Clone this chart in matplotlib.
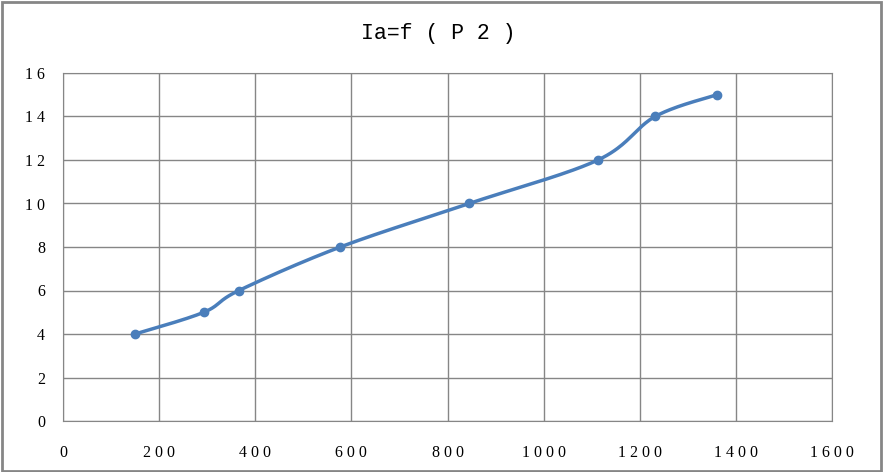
import numpy as np
import matplotlib.pyplot as plt
from matplotlib.patches import Rectangle

# data
p2 = [150, 293, 366, 577, 845, 1113, 1232, 1360]
ia = [4, 5, 6, 8, 10, 12, 14, 15]
xticks = [0, 200, 400, 600, 800, 1000, 1200, 1400, 1600]
yticks = [0, 2, 4, 6, 8, 10, 12, 14, 16]


def smooth(x, y, n=40):
    # Excel-like smoothed line: Catmull-Rom via cubic Bezier segments
    x = np.asarray(x, float)
    y = np.asarray(y, float)
    px = np.concatenate([[x[0]], x, [x[-1]]])
    py = np.concatenate([[y[0]], y, [y[-1]]])
    xs, ys = [], []
    t = np.linspace(0, 1, n)
    for i in range(1, len(px) - 2):
        x0, y0 = px[i], py[i]
        x3, y3 = px[i + 1], py[i + 1]
        x1 = x0 + (px[i + 1] - px[i - 1]) / 6
        y1 = y0 + (py[i + 1] - py[i - 1]) / 6
        x2 = x3 - (px[i + 2] - px[i]) / 6
        y2 = y3 - (py[i + 2] - py[i]) / 6
        b = [(1 - t) ** 3, 3 * (1 - t) ** 2 * t, 3 * (1 - t) * t ** 2, t ** 3]
        xs.append(b[0] * x0 + b[1] * x1 + b[2] * x2 + b[3] * x3)
        ys.append(b[0] * y0 + b[1] * y1 + b[2] * y2 + b[3] * y3)
    return np.concatenate(xs), np.concatenate(ys)


fig = plt.figure(figsize=(8.85, 4.72), dpi=100)
fig.patches.append(Rectangle((0.002, 0.003), 0.994, 0.993, transform=fig.transFigure,
                             fill=False, edgecolor='#868686', linewidth=2))

ax = fig.add_axes([63 / 885, 51 / 472, 769 / 885, 348 / 472])
sx, sy = smooth(p2, ia)
ax.plot(sx, sy, color='#4A7EBB', linewidth=2.5, zorder=3)
ax.plot(p2, ia, 'o', color='#4A7EBB', markersize=6, zorder=4)

ax.set_xlim(0, 1600)
ax.set_ylim(0, 16)
ax.set_xticks(xticks)
ax.set_yticks(yticks)
ax.set_xticklabels([' '.join(str(v)) for v in xticks], family='Liberation Serif', fontsize=11.5)
ax.set_yticklabels([' '.join(str(v)) for v in yticks], family='Liberation Serif', fontsize=11.5)
ax.tick_params(axis='x', length=0, pad=17)
ax.tick_params(axis='y', length=0, pad=13)
ax.grid(True, color='#868686', linewidth=1)
ax.set_axisbelow(True)
for s in ax.spines.values():
    s.set_color('#868686')

fig.text(0.495, 0.93, 'Ia=f ( P 2 )', family='Liberation Mono', fontsize=15.5,
         ha='center', va='center')

fig.savefig('out.png', dpi=100)
